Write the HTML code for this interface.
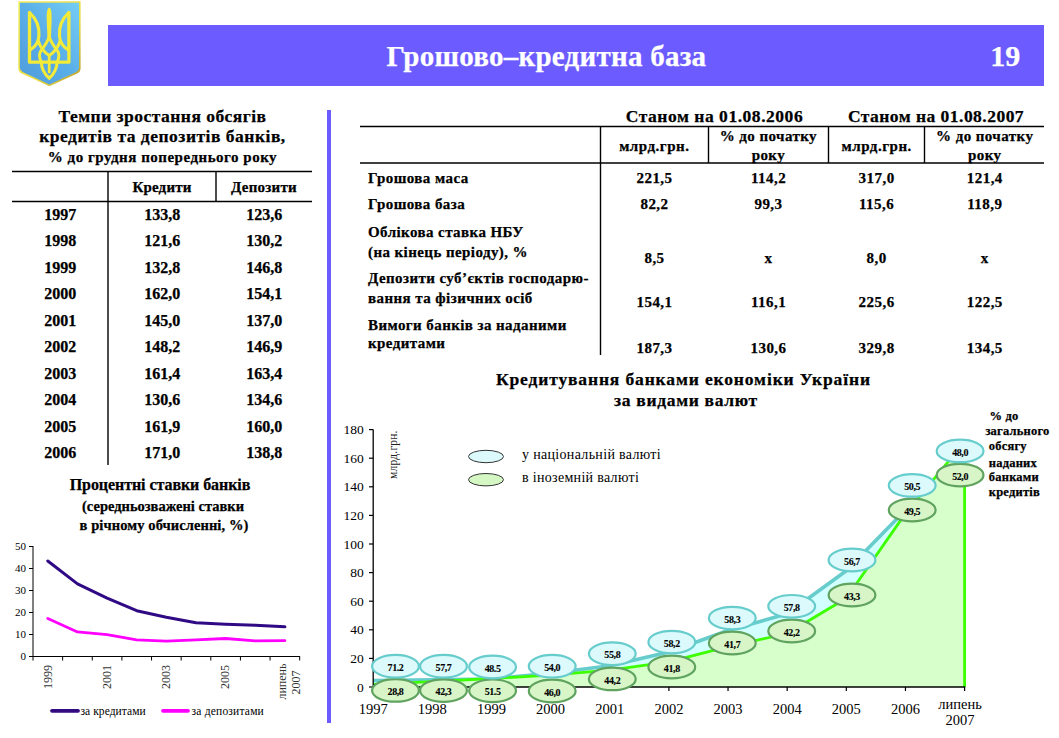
<!DOCTYPE html>
<html><head><meta charset="utf-8"><style>
html,body{margin:0;padding:0;background:#fff;width:1059px;height:738px;overflow:hidden}
svg{display:block;font-family:"Liberation Serif",serif}
</style></head><body>
<svg width="1059" height="738" viewBox="0 0 1059 738">
<rect x="0" y="0" width="1059" height="738" fill="#fff"/>
<defs>
<linearGradient id="shg" x1="1" y1="0" x2="0" y2="1">
<stop offset="0" stop-color="#74cdf4"/><stop offset="0.5" stop-color="#5aaee8"/><stop offset="1" stop-color="#4f9bdc"/>
</linearGradient>
<linearGradient id="brd" x1="0" y1="0" x2="1" y2="1">
<stop offset="0" stop-color="#f4ee5a"/><stop offset="0.6" stop-color="#e8dc40"/><stop offset="1" stop-color="#b89a30"/>
</linearGradient>
</defs>
<path d="M18.3,1.2 L80.6,1.2 L80.6,68 Q80.6,71.6 77.2,73.4 L49.4,86.2 L21.7,73.4 Q18.3,71.6 18.3,68 Z" fill="url(#brd)"/>
<path d="M19.9,2.8 L79.0,2.8 L79.0,67.6 Q79.0,70.6 76.2,72.1 L49.4,84.4 L22.7,72.1 Q19.9,70.6 19.9,67.6 Z" fill="url(#shg)"/>
<g id="trl" fill="none" stroke="#f4ea38" stroke-linecap="round" stroke-linejoin="round"><path d="M29.5,12.5 L29.5,62.2 L49.2,62.2" stroke-width="3.3"/><path d="M30.1,13.2 C36.3,19 39.5,27.5 38.9,36 C38.5,42 36.4,46.5 29.9,50" stroke-width="3.2"/><path d="M38.3,41 C40.4,47.5 44.4,52.5 49.2,55.5" stroke-width="3"/><path d="M49.2,37 C47,43 43.4,47.5 40.5,51.5 C39.1,54 39.5,58.5 41.3,62" stroke-width="3"/><path d="M41.3,62 C41.5,69.5 45.3,74.8 49.2,78.2" stroke-width="3.1"/></g>
<use href="#trl" transform="translate(98.4,0) scale(-1,1)"/>
<path d="M49.2,55 L49.2,62 M49.2,62 L49.2,72" fill="none" stroke="#f4ea38" stroke-width="2.8" stroke-linecap="round"/>
<path d="M49.2,7.6 C51.6,8.6 51.9,14 51.6,22 L51.2,32 L51.0,40 L47.4,40 L47.2,32 L46.8,22 C46.5,14 46.8,8.6 49.2,7.6 Z" fill="#f4ea38"/>
<rect x="108" y="25" width="936" height="61" fill="#6c5cff"/>
<text x="386.5" y="66" font-size="29" font-weight="bold" text-anchor="start" letter-spacing="0.25" fill="#fff" stroke="#fff" stroke-width="0.25" >Грошово–кредитна база</text>
<text x="1020.3" y="66.2" font-size="30" font-weight="bold" text-anchor="end" letter-spacing="0" fill="#fff" stroke="#fff" stroke-width="0.25" >19</text>
<rect x="327" y="110" width="4" height="613" fill="#6c5cff"/>
<text x="162.5" y="122" font-size="17.5" font-weight="bold" text-anchor="middle" letter-spacing="0.474" fill="#000" stroke="#000" stroke-width="0.25" >Темпи зростання обсягів</text>
<text x="162.5" y="142.3" font-size="17.5" font-weight="bold" text-anchor="middle" letter-spacing="0.51" fill="#000" stroke="#000" stroke-width="0.25" >кредитів та депозитів банків,</text>
<text x="162.5" y="161.9" font-size="15" font-weight="bold" text-anchor="middle" letter-spacing="0.507" fill="#000" stroke="#000" stroke-width="0.25" >% до грудня попереднього року</text>
<line x1="12" y1="171.5" x2="312" y2="171.5" stroke="#000" stroke-width="1.6"/>
<line x1="12" y1="201.5" x2="312" y2="201.5" stroke="#000" stroke-width="1.6"/>
<line x1="108" y1="171" x2="108" y2="465" stroke="#000" stroke-width="1.4"/>
<line x1="216" y1="171" x2="216" y2="201.5" stroke="#000" stroke-width="1.4"/>
<text x="162" y="191.5" font-size="15" font-weight="bold" text-anchor="middle" letter-spacing="0.183" fill="#000" stroke="#000" stroke-width="0.25" >Кредити</text>
<text x="264" y="191.5" font-size="15" font-weight="bold" text-anchor="middle" letter-spacing="0.229" fill="#000" stroke="#000" stroke-width="0.25" >Депозити</text>
<text x="60.3" y="220.0" font-size="16" font-weight="bold" text-anchor="middle" letter-spacing="0" fill="#000" stroke="#000" stroke-width="0.25" >1997</text>
<text x="162.2" y="220.0" font-size="16" font-weight="bold" text-anchor="middle" letter-spacing="0" fill="#000" stroke="#000" stroke-width="0.25" >133,8</text>
<text x="264.2" y="220.0" font-size="16" font-weight="bold" text-anchor="middle" letter-spacing="0" fill="#000" stroke="#000" stroke-width="0.25" >123,6</text>
<text x="60.3" y="246.45" font-size="16" font-weight="bold" text-anchor="middle" letter-spacing="0" fill="#000" stroke="#000" stroke-width="0.25" >1998</text>
<text x="162.2" y="246.45" font-size="16" font-weight="bold" text-anchor="middle" letter-spacing="0" fill="#000" stroke="#000" stroke-width="0.25" >121,6</text>
<text x="264.2" y="246.45" font-size="16" font-weight="bold" text-anchor="middle" letter-spacing="0" fill="#000" stroke="#000" stroke-width="0.25" >130,2</text>
<text x="60.3" y="272.9" font-size="16" font-weight="bold" text-anchor="middle" letter-spacing="0" fill="#000" stroke="#000" stroke-width="0.25" >1999</text>
<text x="162.2" y="272.9" font-size="16" font-weight="bold" text-anchor="middle" letter-spacing="0" fill="#000" stroke="#000" stroke-width="0.25" >132,8</text>
<text x="264.2" y="272.9" font-size="16" font-weight="bold" text-anchor="middle" letter-spacing="0" fill="#000" stroke="#000" stroke-width="0.25" >146,8</text>
<text x="60.3" y="299.35" font-size="16" font-weight="bold" text-anchor="middle" letter-spacing="0" fill="#000" stroke="#000" stroke-width="0.25" >2000</text>
<text x="162.2" y="299.35" font-size="16" font-weight="bold" text-anchor="middle" letter-spacing="0" fill="#000" stroke="#000" stroke-width="0.25" >162,0</text>
<text x="264.2" y="299.35" font-size="16" font-weight="bold" text-anchor="middle" letter-spacing="0" fill="#000" stroke="#000" stroke-width="0.25" >154,1</text>
<text x="60.3" y="325.8" font-size="16" font-weight="bold" text-anchor="middle" letter-spacing="0" fill="#000" stroke="#000" stroke-width="0.25" >2001</text>
<text x="162.2" y="325.8" font-size="16" font-weight="bold" text-anchor="middle" letter-spacing="0" fill="#000" stroke="#000" stroke-width="0.25" >145,0</text>
<text x="264.2" y="325.8" font-size="16" font-weight="bold" text-anchor="middle" letter-spacing="0" fill="#000" stroke="#000" stroke-width="0.25" >137,0</text>
<text x="60.3" y="352.25" font-size="16" font-weight="bold" text-anchor="middle" letter-spacing="0" fill="#000" stroke="#000" stroke-width="0.25" >2002</text>
<text x="162.2" y="352.25" font-size="16" font-weight="bold" text-anchor="middle" letter-spacing="0" fill="#000" stroke="#000" stroke-width="0.25" >148,2</text>
<text x="264.2" y="352.25" font-size="16" font-weight="bold" text-anchor="middle" letter-spacing="0" fill="#000" stroke="#000" stroke-width="0.25" >146,9</text>
<text x="60.3" y="378.7" font-size="16" font-weight="bold" text-anchor="middle" letter-spacing="0" fill="#000" stroke="#000" stroke-width="0.25" >2003</text>
<text x="162.2" y="378.7" font-size="16" font-weight="bold" text-anchor="middle" letter-spacing="0" fill="#000" stroke="#000" stroke-width="0.25" >161,4</text>
<text x="264.2" y="378.7" font-size="16" font-weight="bold" text-anchor="middle" letter-spacing="0" fill="#000" stroke="#000" stroke-width="0.25" >163,4</text>
<text x="60.3" y="405.15" font-size="16" font-weight="bold" text-anchor="middle" letter-spacing="0" fill="#000" stroke="#000" stroke-width="0.25" >2004</text>
<text x="162.2" y="405.15" font-size="16" font-weight="bold" text-anchor="middle" letter-spacing="0" fill="#000" stroke="#000" stroke-width="0.25" >130,6</text>
<text x="264.2" y="405.15" font-size="16" font-weight="bold" text-anchor="middle" letter-spacing="0" fill="#000" stroke="#000" stroke-width="0.25" >134,6</text>
<text x="60.3" y="431.6" font-size="16" font-weight="bold" text-anchor="middle" letter-spacing="0" fill="#000" stroke="#000" stroke-width="0.25" >2005</text>
<text x="162.2" y="431.6" font-size="16" font-weight="bold" text-anchor="middle" letter-spacing="0" fill="#000" stroke="#000" stroke-width="0.25" >161,9</text>
<text x="264.2" y="431.6" font-size="16" font-weight="bold" text-anchor="middle" letter-spacing="0" fill="#000" stroke="#000" stroke-width="0.25" >160,0</text>
<text x="60.3" y="458.04999999999995" font-size="16" font-weight="bold" text-anchor="middle" letter-spacing="0" fill="#000" stroke="#000" stroke-width="0.25" >2006</text>
<text x="162.2" y="458.04999999999995" font-size="16" font-weight="bold" text-anchor="middle" letter-spacing="0" fill="#000" stroke="#000" stroke-width="0.25" >171,0</text>
<text x="264.2" y="458.04999999999995" font-size="16" font-weight="bold" text-anchor="middle" letter-spacing="0" fill="#000" stroke="#000" stroke-width="0.25" >138,8</text>
<text x="160" y="490" font-size="16" font-weight="bold" text-anchor="middle" letter-spacing="-0.067" fill="#000" stroke="#000" stroke-width="0.25" >Процентні ставки банків</text>
<text x="163" y="510.5" font-size="14.5" font-weight="bold" text-anchor="middle" letter-spacing="-0.0" fill="#000" stroke="#000" stroke-width="0.25" >(середньозважені ставки</text>
<text x="164" y="529.7" font-size="14.5" font-weight="bold" text-anchor="middle" letter-spacing="0.095" fill="#000" stroke="#000" stroke-width="0.25" >в річному обчисленні, %)</text>
<line x1="33" y1="546" x2="33" y2="657.0" stroke="#000" stroke-width="1"/>
<line x1="33" y1="656.5" x2="300" y2="656.5" stroke="#000" stroke-width="1"/>
<line x1="29" y1="656.5" x2="33" y2="656.5" stroke="#000" stroke-width="1"/>
<text x="26" y="660.3" font-size="11" font-weight="normal" text-anchor="end" letter-spacing="0" fill="#000" >0</text>
<line x1="29" y1="634.5" x2="33" y2="634.5" stroke="#000" stroke-width="1"/>
<text x="26" y="638.3" font-size="11" font-weight="normal" text-anchor="end" letter-spacing="0" fill="#000" >10</text>
<line x1="29" y1="612.5" x2="33" y2="612.5" stroke="#000" stroke-width="1"/>
<text x="26" y="616.3" font-size="11" font-weight="normal" text-anchor="end" letter-spacing="0" fill="#000" >20</text>
<line x1="29" y1="590.5" x2="33" y2="590.5" stroke="#000" stroke-width="1"/>
<text x="26" y="594.3" font-size="11" font-weight="normal" text-anchor="end" letter-spacing="0" fill="#000" >30</text>
<line x1="29" y1="568.5" x2="33" y2="568.5" stroke="#000" stroke-width="1"/>
<text x="26" y="572.3" font-size="11" font-weight="normal" text-anchor="end" letter-spacing="0" fill="#000" >40</text>
<line x1="29" y1="546.5" x2="33" y2="546.5" stroke="#000" stroke-width="1"/>
<text x="26" y="550.3" font-size="11" font-weight="normal" text-anchor="end" letter-spacing="0" fill="#000" >50</text>
<line x1="33.0" y1="656.5" x2="33.0" y2="660.5" stroke="#000" stroke-width="1"/>
<line x1="62.63333333333333" y1="656.5" x2="62.63333333333333" y2="660.5" stroke="#000" stroke-width="1"/>
<line x1="92.26666666666667" y1="656.5" x2="92.26666666666667" y2="660.5" stroke="#000" stroke-width="1"/>
<line x1="121.9" y1="656.5" x2="121.9" y2="660.5" stroke="#000" stroke-width="1"/>
<line x1="151.53333333333333" y1="656.5" x2="151.53333333333333" y2="660.5" stroke="#000" stroke-width="1"/>
<line x1="181.16666666666666" y1="656.5" x2="181.16666666666666" y2="660.5" stroke="#000" stroke-width="1"/>
<line x1="210.8" y1="656.5" x2="210.8" y2="660.5" stroke="#000" stroke-width="1"/>
<line x1="240.43333333333334" y1="656.5" x2="240.43333333333334" y2="660.5" stroke="#000" stroke-width="1"/>
<line x1="270.06666666666666" y1="656.5" x2="270.06666666666666" y2="660.5" stroke="#000" stroke-width="1"/>
<line x1="299.7" y1="656.5" x2="299.7" y2="660.5" stroke="#000" stroke-width="1"/>
<polyline points="47.8,618.4 77.5,631.9 107.1,634.7 136.7,639.8 166.3,641.1 196.0,639.8 225.6,638.5 255.2,640.9 284.9,640.7" fill="none" stroke="#ff00ff" stroke-width="2.8" stroke-linejoin="round" stroke-linecap="round"/>
<polyline points="47.8,561.0 77.5,583.9 107.1,598.2 136.7,610.7 166.3,617.3 196.0,622.8 225.6,624.2 255.2,625.3 284.9,626.8" fill="none" stroke="#300a85" stroke-width="3" stroke-linejoin="round" stroke-linecap="round"/>
<text x="0" y="0" font-size="12" text-anchor="end" fill="#333" transform="translate(51.6,665) rotate(-90)">1999</text>
<text x="0" y="0" font-size="12" text-anchor="end" fill="#333" transform="translate(110.9,665) rotate(-90)">2001</text>
<text x="0" y="0" font-size="12" text-anchor="end" fill="#333" transform="translate(170.2,665) rotate(-90)">2003</text>
<text x="0" y="0" font-size="12" text-anchor="end" fill="#333" transform="translate(229.4,665) rotate(-90)">2005</text>
<text x="0" y="0" font-size="12" text-anchor="end" fill="#333" transform="translate(285.6,663.5) rotate(-90)">липень</text>
<text x="0" y="0" font-size="12" text-anchor="middle" fill="#333" transform="translate(299.8,682.6) rotate(-90)">2007</text>
<line x1="52" y1="710.8" x2="78" y2="710.8" stroke="#330a80" stroke-width="3.8" stroke-linecap="round"/>
<text x="80.5" y="715" font-size="11.5" font-weight="normal" text-anchor="start" letter-spacing="0.064" fill="#000" >за кредитами</text>
<line x1="163" y1="710.8" x2="188" y2="710.8" stroke="#ff00ff" stroke-width="3.8" stroke-linecap="round"/>
<text x="191.5" y="715" font-size="11.5" font-weight="normal" text-anchor="start" letter-spacing="0.208" fill="#000" >за депозитами</text>
<text x="714.5" y="122" font-size="17.5" font-weight="bold" text-anchor="middle" letter-spacing="0.533" fill="#000" stroke="#000" stroke-width="0.25" >Станом на 01.08.2006</text>
<text x="936" y="122" font-size="17.5" font-weight="bold" text-anchor="middle" letter-spacing="0.473" fill="#000" stroke="#000" stroke-width="0.25" >Станом на 01.08.2007</text>
<line x1="360" y1="126.5" x2="1044" y2="126.5" stroke="#000" stroke-width="1.6"/>
<line x1="360" y1="163" x2="1044" y2="163" stroke="#000" stroke-width="1.6"/>
<line x1="600.5" y1="126.5" x2="600.5" y2="163" stroke="#000" stroke-width="1.4"/>
<line x1="708.5" y1="126.5" x2="708.5" y2="163" stroke="#000" stroke-width="1.4"/>
<line x1="828.5" y1="126.5" x2="828.5" y2="163" stroke="#000" stroke-width="1.4"/>
<line x1="924.5" y1="126.5" x2="924.5" y2="163" stroke="#000" stroke-width="1.4"/>
<line x1="600.5" y1="163" x2="600.5" y2="355" stroke="#000" stroke-width="1.4"/>
<text x="654.3" y="151" font-size="15" font-weight="bold" text-anchor="middle" letter-spacing="0.514" fill="#000" stroke="#000" stroke-width="0.25" >млрд.грн.</text>
<text x="876.7" y="151" font-size="15" font-weight="bold" text-anchor="middle" letter-spacing="0.514" fill="#000" stroke="#000" stroke-width="0.25" >млрд.грн.</text>
<text x="768.4" y="141" font-size="15" font-weight="bold" text-anchor="middle" letter-spacing="0.419" fill="#000" stroke="#000" stroke-width="0.25" >% до початку</text>
<text x="768.4" y="159.7" font-size="15" font-weight="bold" text-anchor="middle" letter-spacing="0.419" fill="#000" stroke="#000" stroke-width="0.25" >року</text>
<text x="984.7" y="141" font-size="15" font-weight="bold" text-anchor="middle" letter-spacing="0.419" fill="#000" stroke="#000" stroke-width="0.25" >% до початку</text>
<text x="984.7" y="159.7" font-size="15" font-weight="bold" text-anchor="middle" letter-spacing="0.419" fill="#000" stroke="#000" stroke-width="0.25" >року</text>
<text x="368" y="183" font-size="15" font-weight="bold" text-anchor="start" letter-spacing="0.418" fill="#000" stroke="#000" stroke-width="0.25" >Грошова маса</text>
<text x="368" y="209.3" font-size="15" font-weight="bold" text-anchor="start" letter-spacing="0.418" fill="#000" stroke="#000" stroke-width="0.25" >Грошова база</text>
<text x="368" y="236.5" font-size="15" font-weight="bold" text-anchor="start" letter-spacing="0.418" fill="#000" stroke="#000" stroke-width="0.25" >Облікова ставка НБУ</text>
<text x="368" y="256.8" font-size="15" font-weight="bold" text-anchor="start" letter-spacing="0.418" fill="#000" stroke="#000" stroke-width="0.25" >(на кінець періоду), %</text>
<text x="368" y="283.4" font-size="15" font-weight="bold" text-anchor="start" letter-spacing="0.418" fill="#000" stroke="#000" stroke-width="0.25" >Депозити суб’єктів господарю-</text>
<text x="368" y="302.9" font-size="15" font-weight="bold" text-anchor="start" letter-spacing="0.418" fill="#000" stroke="#000" stroke-width="0.25" >вання та фізичних осіб</text>
<text x="368" y="329.5" font-size="15" font-weight="bold" text-anchor="start" letter-spacing="0.418" fill="#000" stroke="#000" stroke-width="0.25" >Вимоги банків за наданими</text>
<text x="368" y="347.9" font-size="15" font-weight="bold" text-anchor="start" letter-spacing="0.418" fill="#000" stroke="#000" stroke-width="0.25" >кредитами</text>
<text x="654.5" y="183" font-size="15" font-weight="bold" text-anchor="middle" letter-spacing="0.45" fill="#000" stroke="#000" stroke-width="0.25" >221,5</text>
<text x="768.5" y="183" font-size="15" font-weight="bold" text-anchor="middle" letter-spacing="0.45" fill="#000" stroke="#000" stroke-width="0.25" >114,2</text>
<text x="876.6" y="183" font-size="15" font-weight="bold" text-anchor="middle" letter-spacing="0.45" fill="#000" stroke="#000" stroke-width="0.25" >317,0</text>
<text x="984.8" y="183" font-size="15" font-weight="bold" text-anchor="middle" letter-spacing="0.45" fill="#000" stroke="#000" stroke-width="0.25" >121,4</text>
<text x="654.5" y="208.8" font-size="15" font-weight="bold" text-anchor="middle" letter-spacing="0.45" fill="#000" stroke="#000" stroke-width="0.25" >82,2</text>
<text x="768.5" y="208.8" font-size="15" font-weight="bold" text-anchor="middle" letter-spacing="0.45" fill="#000" stroke="#000" stroke-width="0.25" >99,3</text>
<text x="876.6" y="208.8" font-size="15" font-weight="bold" text-anchor="middle" letter-spacing="0.45" fill="#000" stroke="#000" stroke-width="0.25" >115,6</text>
<text x="984.8" y="208.8" font-size="15" font-weight="bold" text-anchor="middle" letter-spacing="0.45" fill="#000" stroke="#000" stroke-width="0.25" >118,9</text>
<text x="654.5" y="262.5" font-size="15" font-weight="bold" text-anchor="middle" letter-spacing="0.45" fill="#000" stroke="#000" stroke-width="0.25" >8,5</text>
<text x="768.5" y="262.5" font-size="15" font-weight="bold" text-anchor="middle" letter-spacing="0.45" fill="#000" stroke="#000" stroke-width="0.25" >x</text>
<text x="876.6" y="262.5" font-size="15" font-weight="bold" text-anchor="middle" letter-spacing="0.45" fill="#000" stroke="#000" stroke-width="0.25" >8,0</text>
<text x="984.8" y="262.5" font-size="15" font-weight="bold" text-anchor="middle" letter-spacing="0.45" fill="#000" stroke="#000" stroke-width="0.25" >x</text>
<text x="654.5" y="307.2" font-size="15" font-weight="bold" text-anchor="middle" letter-spacing="0.45" fill="#000" stroke="#000" stroke-width="0.25" >154,1</text>
<text x="768.5" y="307.2" font-size="15" font-weight="bold" text-anchor="middle" letter-spacing="0.45" fill="#000" stroke="#000" stroke-width="0.25" >116,1</text>
<text x="876.6" y="307.2" font-size="15" font-weight="bold" text-anchor="middle" letter-spacing="0.45" fill="#000" stroke="#000" stroke-width="0.25" >225,6</text>
<text x="984.8" y="307.2" font-size="15" font-weight="bold" text-anchor="middle" letter-spacing="0.45" fill="#000" stroke="#000" stroke-width="0.25" >122,5</text>
<text x="654.5" y="352.5" font-size="15" font-weight="bold" text-anchor="middle" letter-spacing="0.45" fill="#000" stroke="#000" stroke-width="0.25" >187,3</text>
<text x="768.5" y="352.5" font-size="15" font-weight="bold" text-anchor="middle" letter-spacing="0.45" fill="#000" stroke="#000" stroke-width="0.25" >130,6</text>
<text x="876.6" y="352.5" font-size="15" font-weight="bold" text-anchor="middle" letter-spacing="0.45" fill="#000" stroke="#000" stroke-width="0.25" >329,8</text>
<text x="984.8" y="352.5" font-size="15" font-weight="bold" text-anchor="middle" letter-spacing="0.45" fill="#000" stroke="#000" stroke-width="0.25" >134,5</text>
<text x="683.4" y="384.6" font-size="17.5" font-weight="bold" text-anchor="middle" letter-spacing="0.868" fill="#000" stroke="#000" stroke-width="0.25" >Кредитування банками економіки України</text>
<text x="686" y="406" font-size="17.5" font-weight="bold" text-anchor="middle" letter-spacing="0.678" fill="#000" stroke="#000" stroke-width="0.25" >за видами валют</text>
<polygon points="373.2,687.0 373.2,680.5 432.3,679.7 491.5,679.0 550.6,673.2 609.8,665.8 668.9,652.0 728.0,630.5 787.2,613.8 846.3,570.7 905.5,509.9 964.6,460.6 964.6,687.0" fill="#d2ffff"/>
<polyline points="373.2,680.5 432.3,679.7 491.5,679.0 550.6,673.2 609.8,665.8 668.9,652.0 728.0,630.5 787.2,613.8 846.3,570.7 905.5,509.9 964.6,460.6" fill="none" stroke="#66cccc" stroke-width="3.6" stroke-linejoin="round"/>
<polygon points="373.2,687.0 373.2,684.4 432.3,681.6 491.5,678.5 550.6,675.2 609.8,670.2 668.9,661.8 728.0,646.6 787.2,633.5 846.3,598.2 905.5,513.4 964.6,441.8 964.6,687.0" fill="#d6ffcc"/>
<polyline points="373.2,684.4 432.3,681.6 491.5,678.5 550.6,675.2 609.8,670.2 668.9,661.8 728.0,646.6 787.2,633.5 846.3,598.2 905.5,513.4 964.6,441.8 964.6,687.0" fill="none" stroke="#3cff00" stroke-width="2.8" stroke-linejoin="round"/>
<line x1="373.2" y1="429.5" x2="373.2" y2="687.5" stroke="#000" stroke-width="1.3"/>
<line x1="373.2" y1="687.0" x2="965.2" y2="687.0" stroke="#000" stroke-width="1.3"/>
<line x1="369" y1="687.0" x2="373.2" y2="687.0" stroke="#000" stroke-width="1.2"/>
<text x="363.8" y="691.6" font-size="13.5" font-weight="normal" text-anchor="end" letter-spacing="0" fill="#000" >0</text>
<line x1="369" y1="658.4" x2="373.2" y2="658.4" stroke="#000" stroke-width="1.2"/>
<text x="363.8" y="663.0" font-size="13.5" font-weight="normal" text-anchor="end" letter-spacing="0" fill="#000" >20</text>
<line x1="369" y1="629.8" x2="373.2" y2="629.8" stroke="#000" stroke-width="1.2"/>
<text x="363.8" y="634.4" font-size="13.5" font-weight="normal" text-anchor="end" letter-spacing="0" fill="#000" >40</text>
<line x1="369" y1="601.2" x2="373.2" y2="601.2" stroke="#000" stroke-width="1.2"/>
<text x="363.8" y="605.8000000000001" font-size="13.5" font-weight="normal" text-anchor="end" letter-spacing="0" fill="#000" >60</text>
<line x1="369" y1="572.6" x2="373.2" y2="572.6" stroke="#000" stroke-width="1.2"/>
<text x="363.8" y="577.2" font-size="13.5" font-weight="normal" text-anchor="end" letter-spacing="0" fill="#000" >80</text>
<line x1="369" y1="544.0" x2="373.2" y2="544.0" stroke="#000" stroke-width="1.2"/>
<text x="363.8" y="548.6" font-size="13.5" font-weight="normal" text-anchor="end" letter-spacing="0" fill="#000" >100</text>
<line x1="369" y1="515.4" x2="373.2" y2="515.4" stroke="#000" stroke-width="1.2"/>
<text x="363.8" y="520.0" font-size="13.5" font-weight="normal" text-anchor="end" letter-spacing="0" fill="#000" >120</text>
<line x1="369" y1="486.8" x2="373.2" y2="486.8" stroke="#000" stroke-width="1.2"/>
<text x="363.8" y="491.40000000000003" font-size="13.5" font-weight="normal" text-anchor="end" letter-spacing="0" fill="#000" >140</text>
<line x1="369" y1="458.20000000000005" x2="373.2" y2="458.20000000000005" stroke="#000" stroke-width="1.2"/>
<text x="363.8" y="462.80000000000007" font-size="13.5" font-weight="normal" text-anchor="end" letter-spacing="0" fill="#000" >160</text>
<line x1="369" y1="429.6" x2="373.2" y2="429.6" stroke="#000" stroke-width="1.2"/>
<text x="363.8" y="434.20000000000005" font-size="13.5" font-weight="normal" text-anchor="end" letter-spacing="0" fill="#000" >180</text>
<line x1="373.2" y1="687.0" x2="373.2" y2="691.0" stroke="#000" stroke-width="1.2"/>
<line x1="432.34" y1="687.0" x2="432.34" y2="691.0" stroke="#000" stroke-width="1.2"/>
<line x1="491.48" y1="687.0" x2="491.48" y2="691.0" stroke="#000" stroke-width="1.2"/>
<line x1="550.62" y1="687.0" x2="550.62" y2="691.0" stroke="#000" stroke-width="1.2"/>
<line x1="609.76" y1="687.0" x2="609.76" y2="691.0" stroke="#000" stroke-width="1.2"/>
<line x1="668.9000000000001" y1="687.0" x2="668.9000000000001" y2="691.0" stroke="#000" stroke-width="1.2"/>
<line x1="728.04" y1="687.0" x2="728.04" y2="691.0" stroke="#000" stroke-width="1.2"/>
<line x1="787.1800000000001" y1="687.0" x2="787.1800000000001" y2="691.0" stroke="#000" stroke-width="1.2"/>
<line x1="846.32" y1="687.0" x2="846.32" y2="691.0" stroke="#000" stroke-width="1.2"/>
<line x1="905.46" y1="687.0" x2="905.46" y2="691.0" stroke="#000" stroke-width="1.2"/>
<line x1="964.6000000000001" y1="687.0" x2="964.6000000000001" y2="691.0" stroke="#000" stroke-width="1.2"/>
<text x="373.2" y="714" font-size="14.5" font-weight="normal" text-anchor="middle" letter-spacing="0" fill="#000" >1997</text>
<text x="432.34" y="714" font-size="14.5" font-weight="normal" text-anchor="middle" letter-spacing="0" fill="#000" >1998</text>
<text x="491.48" y="714" font-size="14.5" font-weight="normal" text-anchor="middle" letter-spacing="0" fill="#000" >1999</text>
<text x="550.62" y="714" font-size="14.5" font-weight="normal" text-anchor="middle" letter-spacing="0" fill="#000" >2000</text>
<text x="609.76" y="714" font-size="14.5" font-weight="normal" text-anchor="middle" letter-spacing="0" fill="#000" >2001</text>
<text x="668.9000000000001" y="714" font-size="14.5" font-weight="normal" text-anchor="middle" letter-spacing="0" fill="#000" >2002</text>
<text x="728.04" y="714" font-size="14.5" font-weight="normal" text-anchor="middle" letter-spacing="0" fill="#000" >2003</text>
<text x="787.1800000000001" y="714" font-size="14.5" font-weight="normal" text-anchor="middle" letter-spacing="0" fill="#000" >2004</text>
<text x="846.32" y="714" font-size="14.5" font-weight="normal" text-anchor="middle" letter-spacing="0" fill="#000" >2005</text>
<text x="905.46" y="714" font-size="14.5" font-weight="normal" text-anchor="middle" letter-spacing="0" fill="#000" >2006</text>
<text x="960" y="709" font-size="14.5" font-weight="normal" text-anchor="middle" letter-spacing="0" fill="#000" >липень</text>
<text x="960" y="724.7" font-size="14.5" font-weight="normal" text-anchor="middle" letter-spacing="0" fill="#000" >2007</text>
<text x="0" y="0" font-size="11.5" letter-spacing="0.2" text-anchor="end" fill="#222" transform="translate(396.8,430.3) rotate(-90)">млрд.грн.</text>
<ellipse cx="395.5" cy="690.4" rx="23.4" ry="11.3" fill="#d8f5c8" stroke="#5fa35f" stroke-width="2.2"/>
<ellipse cx="395.5" cy="666.2" rx="23.4" ry="11.3" fill="#dcfafc" stroke="#66cccc" stroke-width="2.2"/>
<text x="395.5" y="670.8000000000001" font-size="10" font-weight="bold" text-anchor="middle" letter-spacing="-0.4" fill="#000" stroke="#000" stroke-width="0.1" >71.2</text>
<text x="395.5" y="695.0" font-size="10" font-weight="bold" text-anchor="middle" letter-spacing="-0.4" fill="#000" stroke="#000" stroke-width="0.1" >28,8</text>
<ellipse cx="443.5" cy="690.6" rx="23.4" ry="11.3" fill="#d8f5c8" stroke="#5fa35f" stroke-width="2.2"/>
<ellipse cx="443.5" cy="666.2" rx="23.4" ry="11.3" fill="#dcfafc" stroke="#66cccc" stroke-width="2.2"/>
<text x="443.5" y="670.8000000000001" font-size="10" font-weight="bold" text-anchor="middle" letter-spacing="-0.4" fill="#000" stroke="#000" stroke-width="0.1" >57,7</text>
<text x="443.5" y="695.2" font-size="10" font-weight="bold" text-anchor="middle" letter-spacing="-0.4" fill="#000" stroke="#000" stroke-width="0.1" >42,3</text>
<ellipse cx="492.6" cy="690.8" rx="23.4" ry="11.3" fill="#d8f5c8" stroke="#5fa35f" stroke-width="2.2"/>
<ellipse cx="492.6" cy="667" rx="23.4" ry="11.3" fill="#dcfafc" stroke="#66cccc" stroke-width="2.2"/>
<text x="492.6" y="671.6" font-size="10" font-weight="bold" text-anchor="middle" letter-spacing="-0.4" fill="#000" stroke="#000" stroke-width="0.1" >48.5</text>
<text x="492.6" y="695.4" font-size="10" font-weight="bold" text-anchor="middle" letter-spacing="-0.4" fill="#000" stroke="#000" stroke-width="0.1" >51.5</text>
<ellipse cx="552.2" cy="691" rx="23.4" ry="11.3" fill="#d8f5c8" stroke="#5fa35f" stroke-width="2.2"/>
<ellipse cx="552.2" cy="666.2" rx="23.4" ry="11.3" fill="#dcfafc" stroke="#66cccc" stroke-width="2.2"/>
<text x="552.2" y="670.8000000000001" font-size="10" font-weight="bold" text-anchor="middle" letter-spacing="-0.4" fill="#000" stroke="#000" stroke-width="0.1" >54,0</text>
<text x="552.2" y="695.6" font-size="10" font-weight="bold" text-anchor="middle" letter-spacing="-0.4" fill="#000" stroke="#000" stroke-width="0.1" >46,0</text>
<ellipse cx="612.3" cy="678.9" rx="23.4" ry="11.3" fill="#d8f5c8" stroke="#5fa35f" stroke-width="2.2"/>
<ellipse cx="612.3" cy="653.7" rx="23.4" ry="11.3" fill="#dcfafc" stroke="#66cccc" stroke-width="2.2"/>
<text x="612.3" y="658.3000000000001" font-size="10" font-weight="bold" text-anchor="middle" letter-spacing="-0.4" fill="#000" stroke="#000" stroke-width="0.1" >55,8</text>
<text x="612.3" y="683.5" font-size="10" font-weight="bold" text-anchor="middle" letter-spacing="-0.4" fill="#000" stroke="#000" stroke-width="0.1" >44,2</text>
<ellipse cx="671.8" cy="667" rx="23.4" ry="11.3" fill="#d8f5c8" stroke="#5fa35f" stroke-width="2.2"/>
<ellipse cx="671.8" cy="642.1" rx="23.4" ry="11.3" fill="#dcfafc" stroke="#66cccc" stroke-width="2.2"/>
<text x="671.8" y="646.7" font-size="10" font-weight="bold" text-anchor="middle" letter-spacing="-0.4" fill="#000" stroke="#000" stroke-width="0.1" >58,2</text>
<text x="671.8" y="671.6" font-size="10" font-weight="bold" text-anchor="middle" letter-spacing="-0.4" fill="#000" stroke="#000" stroke-width="0.1" >41,8</text>
<ellipse cx="732.3" cy="643" rx="23.4" ry="11.3" fill="#d8f5c8" stroke="#5fa35f" stroke-width="2.2"/>
<ellipse cx="732.3" cy="618.1" rx="23.4" ry="11.3" fill="#dcfafc" stroke="#66cccc" stroke-width="2.2"/>
<text x="732.3" y="622.7" font-size="10" font-weight="bold" text-anchor="middle" letter-spacing="-0.4" fill="#000" stroke="#000" stroke-width="0.1" >58,3</text>
<text x="732.3" y="647.6" font-size="10" font-weight="bold" text-anchor="middle" letter-spacing="-0.4" fill="#000" stroke="#000" stroke-width="0.1" >41,7</text>
<ellipse cx="791.7" cy="631" rx="23.4" ry="11.3" fill="#d8f5c8" stroke="#5fa35f" stroke-width="2.2"/>
<ellipse cx="791.7" cy="606.3" rx="23.4" ry="11.3" fill="#dcfafc" stroke="#66cccc" stroke-width="2.2"/>
<text x="791.7" y="610.9" font-size="10" font-weight="bold" text-anchor="middle" letter-spacing="-0.4" fill="#000" stroke="#000" stroke-width="0.1" >57,8</text>
<text x="791.7" y="635.6" font-size="10" font-weight="bold" text-anchor="middle" letter-spacing="-0.4" fill="#000" stroke="#000" stroke-width="0.1" >42,2</text>
<ellipse cx="852" cy="595" rx="23.4" ry="11.3" fill="#d8f5c8" stroke="#5fa35f" stroke-width="2.2"/>
<ellipse cx="852" cy="560" rx="23.4" ry="11.3" fill="#dcfafc" stroke="#66cccc" stroke-width="2.2"/>
<text x="852" y="564.6" font-size="10" font-weight="bold" text-anchor="middle" letter-spacing="-0.4" fill="#000" stroke="#000" stroke-width="0.1" >56,7</text>
<text x="852" y="599.6" font-size="10" font-weight="bold" text-anchor="middle" letter-spacing="-0.4" fill="#000" stroke="#000" stroke-width="0.1" >43,3</text>
<ellipse cx="912.2" cy="510" rx="23.4" ry="11.3" fill="#d8f5c8" stroke="#5fa35f" stroke-width="2.2"/>
<ellipse cx="912.2" cy="485.4" rx="23.4" ry="11.3" fill="#dcfafc" stroke="#66cccc" stroke-width="2.2"/>
<text x="912.2" y="490.0" font-size="10" font-weight="bold" text-anchor="middle" letter-spacing="-0.4" fill="#000" stroke="#000" stroke-width="0.1" >50,5</text>
<text x="912.2" y="514.6" font-size="10" font-weight="bold" text-anchor="middle" letter-spacing="-0.4" fill="#000" stroke="#000" stroke-width="0.1" >49,5</text>
<ellipse cx="960.1" cy="475.1" rx="23.4" ry="11.3" fill="#d8f5c8" stroke="#5fa35f" stroke-width="2.2"/>
<ellipse cx="960.1" cy="450.9" rx="23.4" ry="11.3" fill="#dcfafc" stroke="#66cccc" stroke-width="2.2"/>
<text x="960.1" y="455.5" font-size="10" font-weight="bold" text-anchor="middle" letter-spacing="-0.4" fill="#000" stroke="#000" stroke-width="0.1" >48,0</text>
<text x="960.1" y="479.70000000000005" font-size="10" font-weight="bold" text-anchor="middle" letter-spacing="-0.4" fill="#000" stroke="#000" stroke-width="0.1" >52,0</text>
<ellipse cx="486" cy="456.5" rx="17.5" ry="6.2" fill="#dcfafc" stroke="#333" stroke-width="1"/>
<ellipse cx="486" cy="479.7" rx="17.5" ry="6.2" fill="#d4f7c4" stroke="#333" stroke-width="1"/>
<text x="522" y="459" font-size="14" font-weight="normal" text-anchor="start" letter-spacing="0.325" fill="#000" >у національній валюті</text>
<text x="522" y="482" font-size="14" font-weight="normal" text-anchor="start" letter-spacing="0.312" fill="#000" >в іноземній валюті</text>
<text x="989.5" y="420.3" font-size="12.5" font-weight="bold" text-anchor="start" letter-spacing="0.21" fill="#000" stroke="#000" stroke-width="0.25" >% до</text>
<text x="985.4" y="435" font-size="12.5" font-weight="bold" text-anchor="start" letter-spacing="0.21" fill="#000" stroke="#000" stroke-width="0.25" >загального</text>
<text x="988.8" y="449.7" font-size="12.5" font-weight="bold" text-anchor="start" letter-spacing="0.21" fill="#000" stroke="#000" stroke-width="0.25" >обсягу</text>
<text x="988.8" y="466.8" font-size="12.5" font-weight="bold" text-anchor="start" letter-spacing="0.21" fill="#000" stroke="#000" stroke-width="0.25" >наданих</text>
<text x="988.8" y="480.8" font-size="12.5" font-weight="bold" text-anchor="start" letter-spacing="0.21" fill="#000" stroke="#000" stroke-width="0.25" >банками</text>
<text x="988.8" y="496.2" font-size="12.5" font-weight="bold" text-anchor="start" letter-spacing="0.21" fill="#000" stroke="#000" stroke-width="0.25" >кредитів</text>
</svg>
</body></html>
